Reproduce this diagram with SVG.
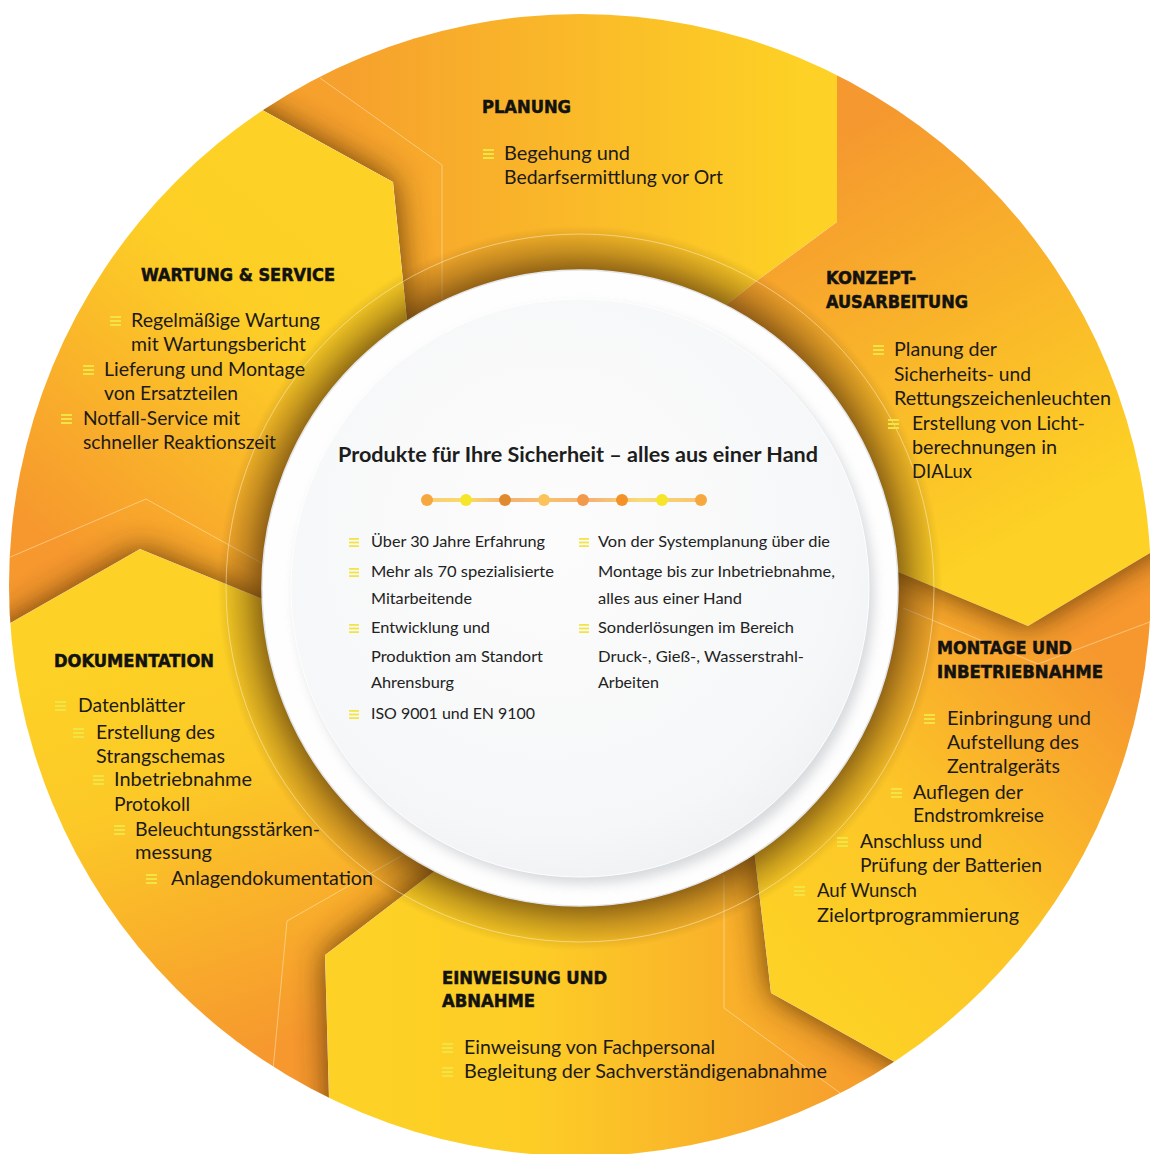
<svg xmlns="http://www.w3.org/2000/svg" xmlns:xlink="http://www.w3.org/1999/xlink" width="1150" height="1154" viewBox="0 0 1150 1154">
<style>
.h{font-family:"DejaVu Sans Condensed","DejaVu Sans",sans-serif;font-weight:bold;font-size:18px;fill:#121212;stroke:#121212;stroke-width:0.5}
.t{font-family:Lato,"Open Sans",sans-serif;font-size:20px;fill:#1c1a17}
.c{font-family:Lato,"Open Sans",sans-serif;font-size:16px;fill:#222}
.ct{font-family:Lato,"Open Sans",sans-serif;font-weight:bold;font-size:21px;fill:#1d1d1d}
.sh{fill:#55300a;opacity:.92}
.ln{fill:none;stroke:#fff6d8;stroke-opacity:.45;stroke-width:1}
.bl{fill:#f3e446}
</style>
<defs>
<clipPath id="outer"><circle cx="580" cy="585" r="571"/></clipPath>
<clipPath id="cA"><polygon points="580,588 415,400 407,320 393,182 266,112 140,42 140,-60 837,-60 837,222 758,280 730,302 650,362"/></clipPath>
<clipPath id="cC"><polygon points="580,588 820,540 903,574 1028,626 1150,553 1260,493 1260,1260 1000,1121 900,1065 771,993 755,858 745,780"/></clipPath>
<clipPath id="cD"><polygon points="580,588 745,780 755,858 771,993 900,1065 1000,1121 1000,1260 331,1260 329,1100 325,955 406,893 470,844"/></clipPath>
<clipPath id="cE"><polygon points="580,588 470,844 406,893 325,955 329,1100 331,1260 -100,1260 -100,686 12,622 140,549 265,600 380,647"/></clipPath>
<clipPath id="cF"><polygon points="580,588 380,647 265,600 140,549 12,622 -100,686 -100,-60 140,-60 140,42 266,112 393,182 407,320 415,400"/></clipPath>
<filter id="blur" filterUnits="userSpaceOnUse" x="-200" y="-200" width="1600" height="1600"><feGaussianBlur stdDeviation="16"/></filter>
<filter id="blur6" filterUnits="userSpaceOnUse" x="0" y="0" width="1150" height="1154"><feGaussianBlur stdDeviation="6"/></filter>
<linearGradient id="gA" gradientUnits="userSpaceOnUse" x1="340" y1="0" x2="800" y2="0"><stop offset="0" stop-color="#f6a02d"/><stop offset="0.5" stop-color="#fab929"/><stop offset="1" stop-color="#fdd125"/></linearGradient>
<linearGradient id="gB" gradientUnits="userSpaceOnUse" x1="860" y1="120" x2="1080" y2="500"><stop offset="0" stop-color="#f5982f"/><stop offset="1" stop-color="#fdd125"/></linearGradient>
<linearGradient id="gC" gradientUnits="userSpaceOnUse" x1="820" y1="1000" x2="1140" y2="700"><stop offset="0" stop-color="#fdd125"/><stop offset="0.45" stop-color="#fcc528"/><stop offset="1" stop-color="#f6982e"/></linearGradient>
<linearGradient id="gD" gradientUnits="userSpaceOnUse" x1="360" y1="0" x2="850" y2="0"><stop offset="0" stop-color="#fdd125"/><stop offset="0.35" stop-color="#fdcd26"/><stop offset="1" stop-color="#f69f2d"/></linearGradient>
<linearGradient id="gE" gradientUnits="userSpaceOnUse" x1="150" y1="640" x2="290" y2="1040"><stop offset="0" stop-color="#fdd125"/><stop offset="0.35" stop-color="#fcc927"/><stop offset="1" stop-color="#f6982e"/></linearGradient>
<linearGradient id="gF" gradientUnits="userSpaceOnUse" x1="330" y1="200" x2="50" y2="540"><stop offset="0" stop-color="#fdd125"/><stop offset="0.3" stop-color="#fdcf26"/><stop offset="1" stop-color="#f6982e"/></linearGradient>
<radialGradient id="ringSh" gradientUnits="userSpaceOnUse" cx="580" cy="588" r="370"><stop offset="0.84" stop-color="#4a2a08" stop-opacity="0.7"/><stop offset="0.91" stop-color="#4a2a08" stop-opacity="0.3"/><stop offset="0.98" stop-color="#4a2a08" stop-opacity="0"/></radialGradient>
<radialGradient id="disc" cx="0.45" cy="0.4" r="0.65"><stop offset="0" stop-color="#fcfcfc"/><stop offset="0.8" stop-color="#f6f7f8"/><stop offset="1" stop-color="#eef0f2"/></radialGradient>
<linearGradient id="dotline" gradientUnits="userSpaceOnUse" x1="427" y1="0" x2="701" y2="0"><stop offset="0" stop-color="#f8cf72"/><stop offset="0.14" stop-color="#f9da6e"/><stop offset="0.3" stop-color="#f5b374"/><stop offset="0.45" stop-color="#f7c070"/><stop offset="0.6" stop-color="#f5b376"/><stop offset="0.78" stop-color="#f8dc78"/><stop offset="1" stop-color="#f8c470"/></linearGradient>
<symbol id="b" viewBox="0 0 11 10" width="11" height="10"><rect x="0" y="0" width="11" height="2"/><rect x="0" y="4" width="11" height="2"/><rect x="0" y="8" width="11" height="2"/></symbol>
</defs>

<g id="tiles" clip-path="url(#outer)">
  <g id="tile-planung" clip-path="url(#cA)">
    <polygon fill="url(#gA)" points="580,588 415,400 407,320 393,182 266,112 140,42 140,-60 837,-60 837,222 758,280 730,302 650,362"/>
    <polygon class="sh" filter="url(#blur)" points="580,588 380,647 265,600 140,549 12,622 -100,686 -100,-60 140,-60 140,42 266,112 393,182 407,320 415,400"/>
  </g>
  <polygon id="tile-konzept" fill="url(#gB)" points="580,588 650,362 730,302 758,280 837,222 837,-60 1260,-60 1260,493 1150,553 1028,626 903,574 820,540"/>
  <g id="tile-montage" clip-path="url(#cC)">
    <polygon fill="url(#gC)" points="580,588 820,540 903,574 1028,626 1150,553 1260,493 1260,1260 1000,1121 900,1065 771,993 755,858 745,780"/>
    <polygon class="sh" filter="url(#blur)" points="580,588 650,362 730,302 758,280 837,222 837,-60 1260,-60 1260,493 1150,553 1028,626 903,574 820,540"/>
  </g>
  <g id="tile-einweisung" clip-path="url(#cD)">
    <polygon fill="url(#gD)" points="580,588 745,780 755,858 771,993 900,1065 1000,1121 1000,1260 331,1260 329,1100 325,955 406,893 470,844"/>
    <polygon class="sh" filter="url(#blur)" points="580,588 820,540 903,574 1028,626 1150,553 1260,493 1260,1260 1000,1121 900,1065 771,993 755,858 745,780"/>
  </g>
  <g id="tile-doku" clip-path="url(#cE)">
    <polygon fill="url(#gE)" points="580,588 470,844 406,893 325,955 329,1100 331,1260 -100,1260 -100,686 12,622 140,549 265,600 380,647"/>
    <polygon class="sh" filter="url(#blur)" points="580,588 745,780 755,858 771,993 900,1065 1000,1121 1000,1260 331,1260 329,1100 325,955 406,893 470,844"/>
  </g>
  <g id="tile-wartung" clip-path="url(#cF)">
    <polygon fill="url(#gF)" points="580,588 380,647 265,600 140,549 12,622 -100,686 -100,-60 140,-60 140,42 266,112 393,182 407,320 415,400"/>
    <polygon class="sh" filter="url(#blur)" points="580,588 470,844 406,893 325,955 329,1100 331,1260 -100,1260 -100,686 12,622 140,549 265,600 380,647"/>
  </g>
  <g id="fold-lines">
    <polyline class="ln" points="320,78 442,165 442,300"/>
    <polyline class="ln" points="8,558 146,499 265,565"/>
    <polyline class="ln" points="403,855 287,921 273,1070"/>
    <polyline class="ln" points="724,875 724,1008 847,1098"/>
    <polyline class="ln" points="903,608 1038,664 1155,620"/>
  </g>
  <circle cx="580" cy="588" r="370" fill="url(#ringSh)"/>
  <circle cx="580" cy="588" r="354" fill="none" stroke="#fff6d0" stroke-opacity="0.5" stroke-width="1"/>
</g>

<g id="center-disc">
  <circle cx="580" cy="588" r="318" fill="#fefefe" stroke="#e4e5e7" stroke-width="1.5"/>
  <circle cx="585" cy="595" r="289" fill="#c9ccd0" opacity="0.75" filter="url(#blur6)"/>
  <circle cx="580" cy="588" r="289" fill="url(#disc)" stroke="#ffffff" stroke-width="1"/>
</g>

<g id="center-content">
  <text class="ct" x="338" y="462" textLength="480" lengthAdjust="spacingAndGlyphs">Produkte für Ihre Sicherheit – alles aus einer Hand</text>
  <g id="timeline">
    <rect x="427" y="498" width="274" height="4" fill="url(#dotline)"/>
    <circle cx="427" cy="500" r="6" fill="#f6a83e"/>
    <circle cx="466" cy="500" r="6" fill="#f6e62a"/>
    <circle cx="505" cy="500" r="6" fill="#e08a2e"/>
    <circle cx="544" cy="500" r="6" fill="#fbc35a"/>
    <circle cx="583" cy="500" r="6" fill="#f09a4a"/>
    <circle cx="622" cy="500" r="6" fill="#f39228"/>
    <circle cx="662" cy="500" r="6" fill="#f7e52c"/>
    <circle cx="701" cy="500" r="6" fill="#f6a83e"/>
  </g>
  <g class="bl">
    <use href="#b" x="349" y="538" width="10" height="9"/>
    <use href="#b" x="349" y="568" width="10" height="9"/>
    <use href="#b" x="349" y="624" width="10" height="9"/>
    <use href="#b" x="349" y="710" width="10" height="9"/>
    <use href="#b" x="579" y="538" width="10" height="9"/>
    <use href="#b" x="579" y="624" width="10" height="9"/>
  </g>
  <text class="c" x="371" y="547" textLength="174" lengthAdjust="spacingAndGlyphs">Über 30 Jahre Erfahrung</text>
  <text class="c" x="371" y="577" textLength="183" lengthAdjust="spacingAndGlyphs">Mehr als 70 spezialisierte</text>
  <text class="c" x="371" y="604" textLength="101" lengthAdjust="spacingAndGlyphs">Mitarbeitende</text>
  <text class="c" x="371" y="633" textLength="119" lengthAdjust="spacingAndGlyphs">Entwicklung und</text>
  <text class="c" x="371" y="662" textLength="172" lengthAdjust="spacingAndGlyphs">Produktion am Standort</text>
  <text class="c" x="371" y="688" textLength="83" lengthAdjust="spacingAndGlyphs">Ahrensburg</text>
  <text class="c" x="371" y="719" textLength="164" lengthAdjust="spacingAndGlyphs">ISO 9001 und EN 9100</text>
  <text class="c" x="598" y="547" textLength="232" lengthAdjust="spacingAndGlyphs">Von der Systemplanung über die</text>
  <text class="c" x="598" y="577" textLength="237" lengthAdjust="spacingAndGlyphs">Montage bis zur Inbetriebnahme,</text>
  <text class="c" x="598" y="604" textLength="144" lengthAdjust="spacingAndGlyphs">alles aus einer Hand</text>
  <text class="c" x="598" y="633" textLength="196" lengthAdjust="spacingAndGlyphs">Sonderlösungen im Bereich</text>
  <text class="c" x="598" y="662" textLength="206" lengthAdjust="spacingAndGlyphs">Druck-, Gieß-, Wasserstrahl-</text>
  <text class="c" x="598" y="688" textLength="61" lengthAdjust="spacingAndGlyphs">Arbeiten</text>
</g>

<g id="node-planung">
  <text class="h" x="482" y="113" textLength="89" lengthAdjust="spacingAndGlyphs">PLANUNG</text>
  <use class="bl" href="#b" x="483" y="149"/>
  <text class="t" x="504" y="160" textLength="126" lengthAdjust="spacingAndGlyphs">Begehung und</text>
  <text class="t" x="504" y="184" textLength="219" lengthAdjust="spacingAndGlyphs">Bedarfsermittlung vor Ort</text>
</g>

<g id="node-konzept">
  <text class="h" x="826" y="284" textLength="90" lengthAdjust="spacingAndGlyphs">KONZEPT-</text>
  <text class="h" x="826" y="308" textLength="142" lengthAdjust="spacingAndGlyphs">AUSARBEITUNG</text>
  <use class="bl" href="#b" x="873" y="345"/>
  <use class="bl" href="#b" x="888" y="419"/>
  <text class="t" x="894" y="356" textLength="103" lengthAdjust="spacingAndGlyphs">Planung der</text>
  <text class="t" x="894" y="381" textLength="137" lengthAdjust="spacingAndGlyphs">Sicherheits- und</text>
  <text class="t" x="894" y="405" textLength="217" lengthAdjust="spacingAndGlyphs">Rettungszeichenleuchten</text>
  <text class="t" x="912" y="430" textLength="173" lengthAdjust="spacingAndGlyphs">Erstellung von Licht-</text>
  <text class="t" x="912" y="454" textLength="145" lengthAdjust="spacingAndGlyphs">berechnungen in</text>
  <text class="t" x="912" y="478" textLength="60" lengthAdjust="spacingAndGlyphs">DIALux</text>
</g>

<g id="node-montage">
  <text class="h" x="937" y="654" textLength="135" lengthAdjust="spacingAndGlyphs">MONTAGE UND</text>
  <text class="h" x="937" y="678" textLength="166" lengthAdjust="spacingAndGlyphs">INBETRIEBNAHME</text>
  <use class="bl" href="#b" x="924" y="714"/>
  <use class="bl" href="#b" x="891" y="788"/>
  <use class="bl" href="#b" x="837" y="837"/>
  <use class="bl" href="#b" x="794" y="886"/>
  <text class="t" x="947" y="725" textLength="144" lengthAdjust="spacingAndGlyphs">Einbringung und</text>
  <text class="t" x="947" y="749" textLength="132" lengthAdjust="spacingAndGlyphs">Aufstellung des</text>
  <text class="t" x="947" y="773" textLength="113" lengthAdjust="spacingAndGlyphs">Zentralgeräts</text>
  <text class="t" x="913" y="799" textLength="110" lengthAdjust="spacingAndGlyphs">Auflegen der</text>
  <text class="t" x="913" y="822" textLength="131" lengthAdjust="spacingAndGlyphs">Endstromkreise</text>
  <text class="t" x="860" y="848" textLength="122" lengthAdjust="spacingAndGlyphs">Anschluss und</text>
  <text class="t" x="860" y="872" textLength="182" lengthAdjust="spacingAndGlyphs">Prüfung der Batterien</text>
  <text class="t" x="817" y="897" textLength="100" lengthAdjust="spacingAndGlyphs">Auf Wunsch</text>
  <text class="t" x="817" y="922" textLength="202" lengthAdjust="spacingAndGlyphs">Zielortprogrammierung</text>
</g>

<g id="node-einweisung">
  <text class="h" x="442" y="984" textLength="165" lengthAdjust="spacingAndGlyphs">EINWEISUNG UND</text>
  <text class="h" x="442" y="1007" textLength="93" lengthAdjust="spacingAndGlyphs">ABNAHME</text>
  <use class="bl" href="#b" x="442" y="1043"/>
  <use class="bl" href="#b" x="442" y="1067"/>
  <text class="t" x="464" y="1054" textLength="251" lengthAdjust="spacingAndGlyphs">Einweisung von Fachpersonal</text>
  <text class="t" x="464" y="1078" textLength="363" lengthAdjust="spacingAndGlyphs">Begleitung der Sachverständigenabnahme</text>
</g>

<g id="node-dokumentation">
  <text class="h" x="54" y="667" textLength="160" lengthAdjust="spacingAndGlyphs">DOKUMENTATION</text>
  <use class="bl" href="#b" x="55" y="701"/>
  <use class="bl" href="#b" x="73" y="728"/>
  <use class="bl" href="#b" x="93" y="775"/>
  <use class="bl" href="#b" x="114" y="825"/>
  <use class="bl" href="#b" x="146" y="874"/>
  <text class="t" x="78" y="712" textLength="107" lengthAdjust="spacingAndGlyphs">Datenblätter</text>
  <text class="t" x="96" y="739" textLength="119" lengthAdjust="spacingAndGlyphs">Erstellung des</text>
  <text class="t" x="96" y="763" textLength="129" lengthAdjust="spacingAndGlyphs">Strangschemas</text>
  <text class="t" x="114" y="786" textLength="138" lengthAdjust="spacingAndGlyphs">Inbetriebnahme</text>
  <text class="t" x="114" y="811" textLength="76" lengthAdjust="spacingAndGlyphs">Protokoll</text>
  <text class="t" x="135" y="836" textLength="185" lengthAdjust="spacingAndGlyphs">Beleuchtungsstärken-</text>
  <text class="t" x="135" y="859" textLength="77" lengthAdjust="spacingAndGlyphs">messung</text>
  <text class="t" x="171" y="885" textLength="202" lengthAdjust="spacingAndGlyphs">Anlagendokumentation</text>
</g>

<g id="node-wartung">
  <text class="h" x="141" y="281" textLength="194" lengthAdjust="spacingAndGlyphs">WARTUNG &amp; SERVICE</text>
  <use class="bl" href="#b" x="110" y="316"/>
  <use class="bl" href="#b" x="83" y="365"/>
  <use class="bl" href="#b" x="61" y="414"/>
  <text class="t" x="131" y="327" textLength="189" lengthAdjust="spacingAndGlyphs">Regelmäßige Wartung</text>
  <text class="t" x="131" y="351" textLength="175" lengthAdjust="spacingAndGlyphs">mit Wartungsbericht</text>
  <text class="t" x="104" y="376" textLength="201" lengthAdjust="spacingAndGlyphs">Lieferung und Montage</text>
  <text class="t" x="104" y="400" textLength="134" lengthAdjust="spacingAndGlyphs">von Ersatzteilen</text>
  <text class="t" x="83" y="425" textLength="157" lengthAdjust="spacingAndGlyphs">Notfall-Service mit</text>
  <text class="t" x="83" y="449" textLength="193" lengthAdjust="spacingAndGlyphs">schneller Reaktionszeit</text>
</g>
</svg>
